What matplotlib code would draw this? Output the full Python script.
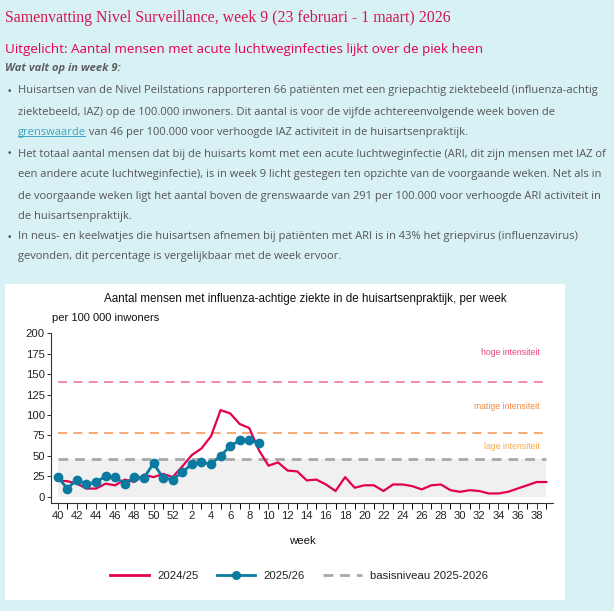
import numpy as np
import matplotlib
matplotlib.use("Agg")
import matplotlib.pyplot as plt
from matplotlib.patches import Rectangle
from matplotlib.lines import Line2D

# ---------------- data ----------------
weeks = list(range(40, 53)) + list(range(1, 40))
season_2425 = [20, 19, 16, 10, 10, 16, 14, 21, 18, 27, 24, 28, 24,
               37, 51, 59, 74, 106, 102, 89, 84, 57, 38, 42, 32, 31, 20,
               21, 15, 7, 24, 11, 14, 14, 7, 15, 15, 13, 9, 14, 15, 8,
               6, 8, 7, 4, 4, 6, 10, 14, 18, 18]
season_2526 = [24, 10, 21, 15, 18, 25, 24, 16, 24, 23, 41, 23, 21,
               30, 40, 42, 40, 50, 62, 69, 69, 66]
basisniveau = 46
matig_grens = 78
hoog_grens = 140
series_labels = ["2024/25", "2025/26", "basisniveau 2025-2026"]
level_labels = ["hoge intensiteit", "matige intensiteit", "lage intensiteit"]
level_label_y = [176, 110, 61]
y_ticks = [0, 25, 50, 75, 100, 125, 150, 175, 200]

title = "Samenvatting Nivel Surveillance, week 9 (23 februari - 1 maart) 2026"
subtitle = "Uitgelicht: Aantal mensen met acute luchtweginfecties lijkt over de piek heen"
lead = "Wat valt op in week 9:"
body_lines = [
    (True, "Huisartsen van de Nivel Peilstations rapporteren 66 patiënten met een griepachtig ziektebeeld (influenza-achtig"),
    (False, "ziektebeeld, IAZ) op de 100.000 inwoners. Dit aantal is voor de vijfde achtereenvolgende week boven de"),
    (False, None),
    (True, "Het totaal aantal mensen dat bij de huisarts komt met een acute luchtweginfectie (ARI, dit zijn mensen met IAZ of"),
    (False, "een andere acute luchtweginfectie), is in week 9 licht gestegen ten opzichte van de voorgaande weken. Net als in"),
    (False, "de voorgaande weken ligt het aantal boven de grenswaarde van 291 per 100.000 voor verhoogde ARI activiteit in"),
    (False, "de huisartsenpraktijk."),
    (True, "In neus- en keelwatjes die huisartsen afnemen bij patiënten met ARI is in 43% het griepvirus (influenzavirus)"),
    (False, "gevonden, dit percentage is vergelijkbaar met de week ervoor."),
]
link_word = "grenswaarde"
link_rest = " van 46 per 100.000 voor verhoogde IAZ activiteit in de huisartsenpraktijk."
chart_title = "Aantal mensen met influenza-achtige ziekte in de huisartsenpraktijk, per week"
y_unit = "per 100 000 inwoners"
x_label = "week"

# ---------------- styling ----------------
W, H = 614, 611
BG = "#d8f1f4"
RED = "#e3004f"
BLUE = "#0a7aa0"
TXT = "#555555"
LINK = "#3aa6c4"

def fx(px):
    return px / W

def fy(py):
    return 1 - py / H

fig = plt.figure(figsize=(W / 100, H / 100), dpi=100, facecolor=BG)

# page texts
fig.text(fx(5), fy(18), title, family=["Liberation Serif", "DejaVu Serif"],
         fontsize=11.45, color="#d2164f", va="center", ha="left")
fig.text(fx(5), fy(50), subtitle, family=["Open Sans", "DejaVu Sans"],
         fontsize=9.6, color=RED, va="center", ha="left")
fig.text(fx(5), fy(69), lead, family=["Open Sans", "DejaVu Sans"],
         fontsize=8.0, color="#5f5f5f", va="center", ha="left",
         fontweight="bold", fontstyle="italic")

line_y = [91, 112, 132, 154, 175, 196, 216, 237, 257]
body_fs = 8.0
link_text = None
for (bullet, txt), yy in zip(body_lines, line_y):
    if bullet:
        fig.text(fx(7), fy(yy), "•", family=["DejaVu Sans"], fontsize=6.5,
                 color=TXT, va="center", ha="left")
    if txt is not None:
        fig.text(fx(18), fy(yy), txt, family=["Open Sans", "DejaVu Sans"],
                 fontsize=body_fs, color=TXT, va="center", ha="left")
    else:
        link_text = fig.text(fx(18), fy(yy), link_word,
                             family=["Open Sans", "DejaVu Sans"],
                             fontsize=body_fs, color=LINK, va="center", ha="left")
        link_y = yy

fig.canvas.draw()
renderer = fig.canvas.get_renderer()
bb = link_text.get_window_extent(renderer)
fig.text(bb.x1 / W, fy(link_y), link_rest, family=["Open Sans", "DejaVu Sans"],
         fontsize=body_fs, color=TXT, va="center", ha="left")
fig.add_artist(Line2D([bb.x0 / W, (bb.x1 - 1.5) / W], [(bb.y0 + 1.5) / H] * 2,
                      transform=fig.transFigure, color=LINK, lw=0.7))

# white chart panel
fig.add_artist(Rectangle((fx(5), fy(600)), (565 - 5) / W, (600 - 284) / H,
                         transform=fig.transFigure, facecolor="white",
                         edgecolor="none", zorder=0))

# ---------------- chart ----------------
ax = fig.add_axes([fx(51), fy(502.7), (553 - 51) / W, (502.7 - 333.3) / H])
ax.set_facecolor("none")
x = np.arange(len(weeks))
n = len(weeks)

ax.fill_between([0, n - 1], 0, basisniveau, color="#f0f0f0", zorder=1, lw=0)
ax.plot([0, n - 1], [hoog_grens] * 2, color="#f27fa3", lw=1.3,
        dashes=(5, 3.5), zorder=2)
ax.plot([0, n - 1], [matig_grens] * 2, color="#f7a167", lw=1.3,
        dashes=(5, 3.5), zorder=2)
ax.plot([0, n - 1], [basisniveau] * 2, color="#a8a8a8", lw=2.0,
        dashes=(3.5, 2.5), zorder=2)

level_colors = ["#e8446f", "#f5893d", "#f8a94d"]
for lab, yy, c in zip(level_labels, level_label_y, level_colors):
    ax.text(50.3, yy, lab, ha="right", va="center", color=c, fontsize=6.2,
            family=["Liberation Sans", "DejaVu Sans"])

ax.plot(x, season_2425, color=RED, lw=1.6, zorder=3, label=series_labels[0],
        solid_joinstyle="round")
ax.plot(x[:len(season_2526)], season_2526, color=BLUE, lw=2.0, marker="o",
        markersize=6, zorder=4, label=series_labels[1])

ax.set_xlim(-0.7, 51.7)
ax.set_ylim(-7.3, 200)
for s in ["top", "right"]:
    ax.spines[s].set_visible(False)
ax.spines["left"].set_bounds(-7.3, 200)
for s in ["left", "bottom"]:
    ax.spines[s].set_color("#333333")
    ax.spines[s].set_linewidth(0.8)

ax.set_yticks(y_ticks)
ax.set_yticklabels([str(v) for v in y_ticks])
ax.set_xticks(x[::2])
ax.set_xticklabels([str(w) for w in weeks[::2]])
ax.set_xticks(x, minor=True)
ax.tick_params(axis="both", labelsize=8.1, colors="#333333", labelcolor="#222222")
ax.tick_params(axis="x", which="both", length=4, width=0.7, pad=2)
ax.tick_params(axis="y", length=3, width=0.7, pad=1.5)
for lbl in ax.get_xticklabels() + ax.get_yticklabels():
    lbl.set_family(["Liberation Sans", "DejaVu Sans"])

fig.text(fx(305), fy(299), chart_title, ha="center", va="center", fontsize=8.4,
         color="#111111", family=["Liberation Sans", "DejaVu Sans"])
fig.text(fx(52), fy(318), y_unit, ha="left", va="center", fontsize=8.0,
         color="#111111", family=["Liberation Sans", "DejaVu Sans"])
fig.text(fx(302), fy(541), x_label, ha="center", va="center", fontsize=8.2,
         color="#111111", family=["Liberation Sans", "DejaVu Sans"])

handles = [
    Line2D([], [], color=RED, lw=2.0),
    Line2D([], [], color=BLUE, lw=2.0, marker="o", markersize=5.5),
    Line2D([], [], color="#a8a8a8", lw=2.0, dashes=(3.5, 2.5)),
]
leg = fig.legend(handles, series_labels, loc="center", ncol=3,
                 bbox_to_anchor=(fx(299), fy(576)), frameon=False,
                 handlelength=3.4, handletextpad=0.7, columnspacing=1.6,
                 numpoints=1, prop={"family": ["Liberation Sans", "DejaVu Sans"],
                                     "size": 8.2})
for t in leg.get_texts():
    t.set_color("#222222")

fig.savefig("out.png", dpi=100, facecolor=BG)
